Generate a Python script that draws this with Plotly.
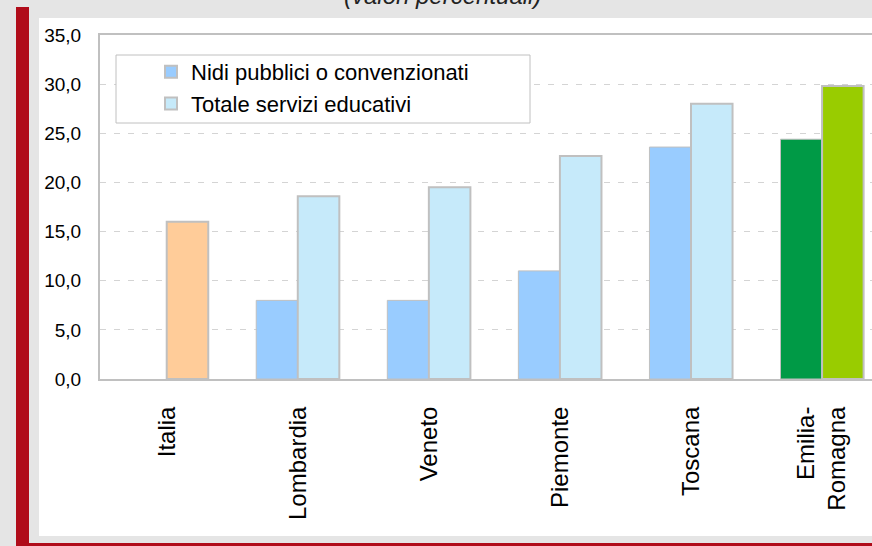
import plotly.graph_objects as go

# ---- data ----
categories = ["Italia", "Lombardia", "Veneto", "Piemonte", "Toscana", "Emilia-<br>Romagna"]
nidi = [None, 8.0, 8.0, 11.0, 23.6, 24.4]
totale = [16.0, 18.6, 19.5, 22.7, 28.0, 29.8]
series_names = ["Nidi pubblici o convenzionati", "Totale servizi educativi"]
nidi_colors = ["#99CCFF", "#99CCFF", "#99CCFF", "#99CCFF", "#99CCFF", "#009A46"]
totale_colors = ["#FFCC99", "#C6EAFA", "#C6EAFA", "#C6EAFA", "#C6EAFA", "#99CC00"]
legend_colors = ["#99CCFF", "#C6EAFA"]
y_ticks = [0, 5, 10, 15, 20, 25, 30, 35]
title_text = "(valori percentuali)"

# ---- geometry helpers (pixels -> paper coords) ----
W, H = 872, 546
ML, MR, MT, MB = 100, 0, 35, 167
PW, PH = W - ML - MR, H - MT - MB


def px(x):
    return (x - ML) / PW


def py(y):
    return (H - MB - y) / PH


FONT = "Liberation Sans, Arial, sans-serif"
GRAY = "#c0c0c0"
RED = "#b00c1a"

fig = go.Figure()

fig.add_trace(go.Bar(
    x=categories, y=nidi, name=series_names[0], showlegend=False,
    marker=dict(color=nidi_colors, line=dict(color=GRAY, width=1)),
    hoverinfo="skip",
))
fig.add_trace(go.Bar(
    x=categories, y=totale, name=series_names[1], showlegend=False,
    marker=dict(color=totale_colors, line=dict(color=GRAY, width=2)),
    hoverinfo="skip",
))
# legend-only entries
for nm, col in zip(series_names, legend_colors):
    fig.add_trace(go.Scatter(
        x=[None], y=[None], mode="markers", name=nm,
        marker=dict(symbol="square", size=13, color=col, line=dict(color=GRAY, width=1)),
    ))

shapes = [
    # white panel
    dict(type="rect", xref="paper", yref="paper", x0=px(39), x1=px(900), y0=py(536), y1=py(18),
         fillcolor="white", line=dict(width=0), layer="below"),
    # red vertical bar
    dict(type="rect", xref="paper", yref="paper", x0=px(16), x1=px(29), y0=py(560), y1=py(7),
         fillcolor=RED, line=dict(width=0), layer="below"),
    # red bottom bar
    dict(type="rect", xref="paper", yref="paper", x0=px(16), x1=px(900), y0=py(560), y1=py(543),
         fillcolor=RED, line=dict(width=0), layer="below"),
    # legend box
    dict(type="rect", xref="paper", yref="paper", x0=px(116), x1=px(530), y0=py(123), y1=py(55),
         fillcolor="white", line=dict(color=GRAY, width=1), layer="above"),
]

fig.update_layout(
    width=W, height=H,
    margin=dict(l=ML, r=MR, t=MT, b=MB, pad=0),
    paper_bgcolor="#e5e5e5",
    plot_bgcolor="white",
    separators=",.",
    barmode="group",
    bargap=0.366,
    bargroupgap=0,
    font=dict(family=FONT, color="#000000"),
    shapes=shapes,
    showlegend=True,
    legend=dict(
        x=px(151), y=py(51), xanchor="left", yanchor="top",
        bgcolor="rgba(0,0,0,0)", borderwidth=0,
        font=dict(family=FONT, size=22, color="#000000"),
        itemsizing="constant",
        tracegroupgap=0,
    ),
    annotations=[dict(
        text=title_text, xref="paper", yref="paper", x=px(442), y=py(11),
        xanchor="center", yanchor="bottom", showarrow=False,
        font=dict(family=FONT, size=24, color="#222222", style="italic"),
    )],
)

fig.update_xaxes(
    type="category",
    range=[-0.509, 5.381],
    showline=True, linecolor=GRAY, linewidth=2, mirror=True,
    showgrid=False, ticks="", tickangle=-90,
    tickfont=dict(family=FONT, size=24, color="#000000"),
    ticklabelstandoff=16,
)
fig.update_yaxes(
    range=[0, 35], tickvals=y_ticks, tickformat=".1f",
    showline=True, linecolor=GRAY, linewidth=2, mirror=False,
    showgrid=True, gridcolor="#d4d4d4", gridwidth=1, griddash="6px,8px",
    zeroline=False, ticks="",
    tickfont=dict(family=FONT, size=19, color="#000000"),
    ticklabelstandoff=13,
)

fig.write_html("out.html")
